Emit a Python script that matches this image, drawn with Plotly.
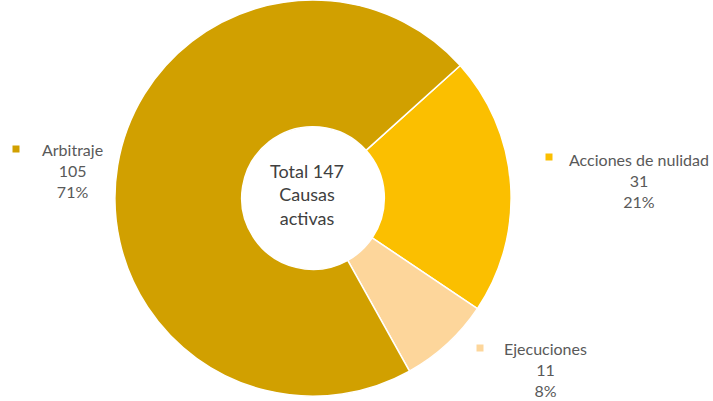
import plotly.graph_objects as go

# Active cases by type
categorias = ["Acciones de nulidad", "Ejecuciones", "Arbitraje"]
causas = [31, 11, 105]
porcentajes = ["21%", "8%", "71%"]
colores = ["#FBBF00", "#FDD69B", "#D1A000"]

total = sum(causas)

W, H = 713, 401

fig = go.Figure(
    go.Pie(
        labels=categorias,
        values=causas,
        hole=0.36,
        sort=False,
        direction="clockwise",
        rotation=48,
        marker=dict(colors=colores, line=dict(color="white", width=1.5)),
        textinfo="none",
        hoverinfo="label+value+percent",
        domain=dict(x=[0.139, 0.739], y=[0.012, 1.0]),
        showlegend=False,
    )
)

font = dict(family="Lato, Open Sans, sans-serif", size=16, color="#595959")

# Label blocks: (text centre x, first line y, marker x, marker y) in pixels
posiciones = {
    "Acciones de nulidad": (639, 158, 549, 157),
    "Ejecuciones": (545, 347, 480, 348),
    "Arbitraje": (72, 148, 16, 149),
}

annotations = []
shapes = []
for cat, val, pct, col in zip(categorias, causas, porcentajes, colores):
    tx, ty, mx, my = posiciones[cat]
    annotations.append(
        dict(
            x=tx / W, y=1 - (ty - 10.5) / H, xref="paper", yref="paper",
            text=f"{cat}<br>{val}<br>{pct}", showarrow=False,
            xanchor="center", yanchor="top", align="center", font=font,
        )
    )
    shapes.append(
        dict(
            type="rect", xref="paper", yref="paper",
            x0=(mx - 3.5) / W, x1=(mx + 3.5) / W,
            y0=1 - (my + 3.5) / H, y1=1 - (my - 3.5) / H,
            fillcolor=col, line=dict(width=0),
        )
    )

annotations.append(
    dict(
        x=307 / W, y=1 - 194 / H, xref="paper", yref="paper",
        text=f"Total {total}<br>Causas<br>activas", showarrow=False,
        xanchor="center", yanchor="middle", align="center",
        font=dict(family="Lato, Open Sans, sans-serif", size=18, color="#404040"),
    )
)

fig.update_layout(
    width=W, height=H,
    margin=dict(l=0, r=0, t=0, b=0),
    paper_bgcolor="white", plot_bgcolor="white",
    annotations=annotations, shapes=shapes,
)

fig.write_html("out.html")
